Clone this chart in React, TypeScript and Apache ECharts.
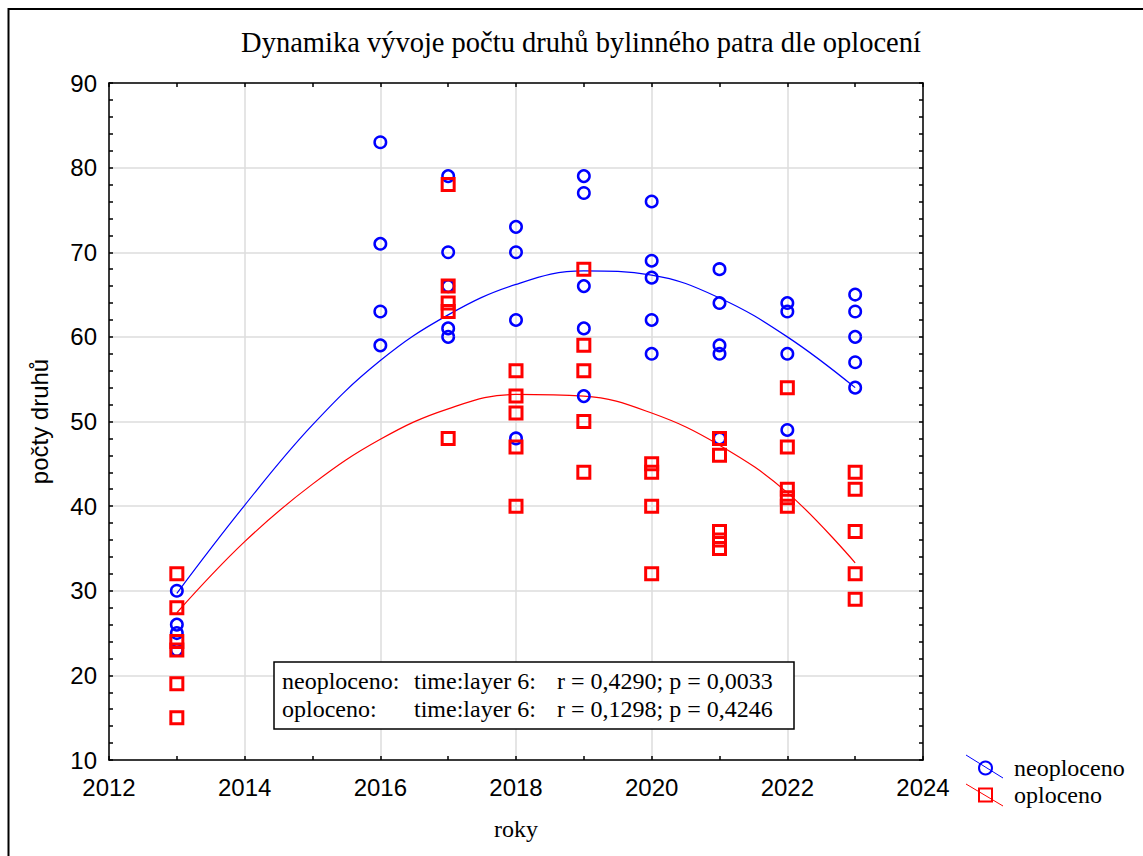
import React, { useEffect, useRef } from "react";
import * as echarts from "echarts";

// ---- data ----
const years = [2013, 2016, 2017, 2018, 2019, 2020, 2021, 2022, 2023];
const neoplocenoByYear = [
  [30, 26, 25, 23],
  [83, 71, 63, 59],
  [79, 70, 66, 61, 60],
  [73, 70, 62, 48],
  [79, 77, 66, 61, 53],
  [76, 69, 67, 62, 58],
  [68, 64, 59, 58, 48],
  [64, 63, 58, 49],
  [65, 63, 60, 57, 54],
];
const oplocenoByYear = [
  [32, 28, 24, 23, 19, 15],
  [],
  [78, 66, 64, 63, 48],
  [56, 53, 51, 47, 40],
  [68, 59, 56, 50, 44],
  [45, 44, 40, 32],
  [48, 46, 37, 36, 35],
  [54, 47, 42, 41, 40],
  [44, 42, 37, 32, 29],
];
const fitYears = [2013, 2014, 2015, 2016, 2017, 2018, 2019, 2020, 2021, 2022, 2023];
const neoplocenoFit = [29.7, 40.1, 49.6, 57.2, 62.6, 66.2, 67.8, 67.3, 64.6, 60.0, 54.0];
const oplocenoFit = [27.4, 35.8, 42.6, 47.9, 51.5, 53.2, 53.0, 51.0, 47.2, 41.6, 33.3];

const seriesNames = ["neoploceno", "oploceno"];
const statsModel = ["time:layer 6:", "time:layer 6:"];
const statsValues = ["r = 0,4290; p = 0,0033", "r = 0,1298; p = 0,4246"];

const titleText = "Dynamika vývoje počtu druhů bylinného patra dle oplocení";
const xName = "roky";
const yName = "počty druhů";
const xMin = 2012, xMax = 2024, xStep = 2;
const yMin = 10, yMax = 90, yStep = 10;

const BLUE = "#0000ff";
const RED = "#ff0000";
const SERIF = "Liberation Serif";
const SANS = "Liberation Sans";

function toPoints(groups: number[][]) {
  const out: number[][] = [];
  groups.forEach((vals, i) => vals.forEach((v) => out.push([years[i], v])));
  return out;
}

export default function App() {
  const ref = useRef<HTMLDivElement>(null);
  useEffect(() => {
    if (!ref.current) return;
    const chart = echarts.init(ref.current, null, { renderer: "svg" });
    const tickStyle = { inside: true, length: 4, lineStyle: { color: "#000", width: 1.5 } };
    const minorStyle = { show: true, length: 4, lineStyle: { color: "#000", width: 1.5 } };
    const axisLine = { show: true, lineStyle: { color: "#000", width: 1.5 } };
    const option: any = {
      animation: false,
      backgroundColor: "#ffffff",
      title: {
        text: titleText,
        left: 576,
        top: 23,
        textAlign: "center",
        textStyle: { fontFamily: SERIF, fontSize: 28.5, fontWeight: "normal", color: "#000" },
      },
      grid: { left: 109, right: 220, top: 83, bottom: 96, containLabel: false },
      xAxis: [
        {
          type: "value",
          min: xMin,
          max: xMax,
          interval: xStep,
          name: xName,
          nameLocation: "middle",
          nameGap: 57,
          nameTextStyle: { fontFamily: SERIF, fontSize: 24, color: "#000" },
          axisLine,
          axisTick: tickStyle,
          minorTick: { ...minorStyle, splitNumber: 2 },
          axisLabel: {
            fontFamily: SANS,
            fontSize: 24,
            color: "#000",
            margin: 15,
            formatter: (v: number) => String(v),
          },
          splitLine: { show: true, lineStyle: { color: "#dcdcdc", width: 1.5 } },
        },
        {
          type: "value",
          position: "top",
          min: xMin,
          max: xMax,
          interval: xStep,
          axisLine,
          axisTick: tickStyle,
          minorTick: { ...minorStyle, splitNumber: 2 },
          axisLabel: { show: false },
          splitLine: { show: false },
        },
      ],
      yAxis: [
        {
          type: "value",
          min: yMin,
          max: yMax,
          interval: yStep,
          name: yName,
          nameLocation: "middle",
          nameGap: 58,
          nameTextStyle: { fontFamily: SANS, fontSize: 24, color: "#000" },
          axisLine,
          axisTick: tickStyle,
          minorTick: { ...minorStyle, splitNumber: 5 },
          axisLabel: { fontFamily: SANS, fontSize: 24, color: "#000", margin: 12 },
          splitLine: { show: true, lineStyle: { color: "#dcdcdc", width: 1.5 } },
        },
        {
          type: "value",
          position: "right",
          min: yMin,
          max: yMax,
          interval: yStep,
          axisLine,
          axisTick: tickStyle,
          minorTick: { ...minorStyle, splitNumber: 5 },
          axisLabel: { show: false },
          splitLine: { show: false },
        },
      ],
      legend: {
        data: seriesNames,
        orient: "vertical",
        left: 973,
        top: 751,
        itemWidth: 13,
        itemHeight: 13,
        itemGap: 3,
        textStyle: {
          fontFamily: SERIF,
          fontSize: 24,
          color: "#000",
          lineHeight: 24,
          padding: [0, 0, 0, 17],
        },
      },
      series: [
        {
          name: seriesNames[0] + " fit",
          type: "line",
          data: fitYears.map((y, i) => [y, neoplocenoFit[i]]),
          smooth: 0.4,
          showSymbol: false,
          lineStyle: { color: BLUE, width: 1.2 },
          z: 2,
        },
        {
          name: seriesNames[1] + " fit",
          type: "line",
          data: fitYears.map((y, i) => [y, oplocenoFit[i]]),
          smooth: 0.4,
          showSymbol: false,
          lineStyle: { color: RED, width: 1.2 },
          z: 2,
        },
        {
          name: seriesNames[0],
          type: "scatter",
          data: toPoints(neoplocenoByYear),
          symbol: "circle",
          symbolSize: 11.5,
          itemStyle: { color: "rgba(0,0,0,0)", borderColor: BLUE, borderWidth: 2.5, opacity: 1 },
          z: 3,
        },
        {
          name: seriesNames[1],
          type: "scatter",
          data: toPoints(oplocenoByYear),
          symbol: "rect",
          symbolSize: 12,
          itemStyle: { color: "rgba(0,0,0,0)", borderColor: RED, borderWidth: 3, opacity: 1 },
          z: 4,
        },
      ],
      graphic: [
        {
          type: "rect",
          shape: { x: 8.5, y: 9, width: 1160, height: 900 },
          style: { fill: "none", stroke: "#000", lineWidth: 2 },
          silent: true,
          z: 0,
        },
        {
          type: "line",
          shape: { x1: 966, y1: 755, x2: 1003, y2: 778 },
          style: { stroke: BLUE, lineWidth: 1 },
          z: 1,
        },
        {
          type: "line",
          shape: { x1: 966, y1: 784, x2: 1003, y2: 806 },
          style: { stroke: RED, lineWidth: 1 },
          z: 1,
        },
        {
          type: "rect",
          shape: { x: 274, y: 662, width: 520, height: 67 },
          style: { fill: "#fff", stroke: "#000", lineWidth: 1.5 },
          z: 10,
        },
        ...seriesNames.flatMap((n, i) => [
          {
            type: "text",
            x: 282,
            y: 681 + i * 28,
            z: 11,
            style: { text: n + ":", fontFamily: SERIF, fontSize: 24, fill: "#000", verticalAlign: "middle" },
          },
          {
            type: "text",
            x: 414,
            y: 681 + i * 28,
            z: 11,
            style: { text: statsModel[i], fontFamily: SERIF, fontSize: 24, fill: "#000", verticalAlign: "middle" },
          },
          {
            type: "text",
            x: 557,
            y: 681 + i * 28,
            z: 11,
            style: { text: statsValues[i], fontFamily: SERIF, fontSize: 24, fill: "#000", verticalAlign: "middle" },
          },
        ]),
      ],
    };
    chart.setOption(option);
    return () => chart.dispose();
  }, []);
  return (
    <div
      ref={ref}
      style={{ position: "fixed", left: 0, top: 0, width: 1143, height: 856, background: "#fff" }}
    />
  );
}
